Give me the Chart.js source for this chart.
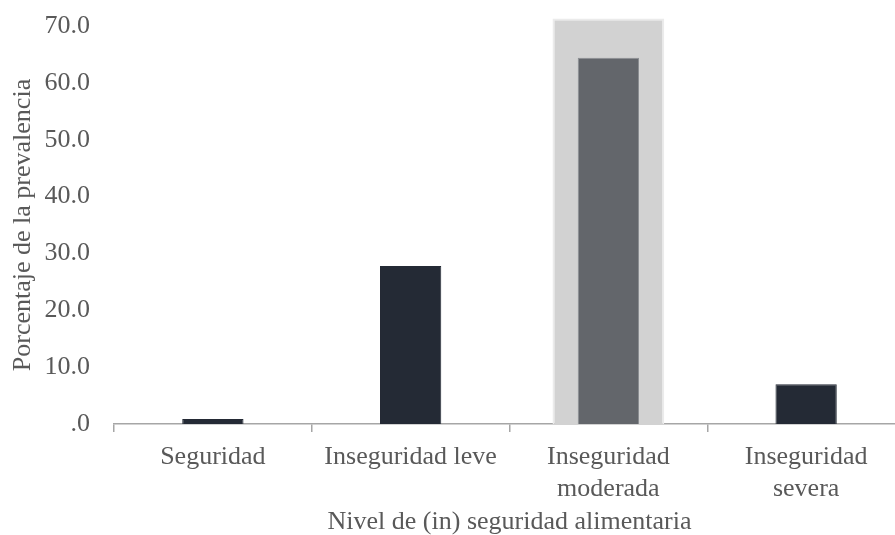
<!DOCTYPE html>
<html>
<head>
<meta charset="utf-8">
<script src="https://cdn.jsdelivr.net/npm/chart.js@4/dist/chart.umd.min.js"></script>
<style>
    html, body { margin: 0; padding: 0; background: #fff; overflow: hidden; }
    #caja { width: 905px; height: 538px; }
</style>
</head>
<body>
<div id="caja"><canvas id="grafico"></canvas></div>
<script>
// Datos
const categorias = ['Seguridad', 'Inseguridad leve', ['Inseguridad', 'moderada'], ['Inseguridad', 'severa']];
const prevalencia = [0.9, 27.8, 64.4, 7.0];
const resaltado = [null, null, 71.3, null];
const marcasY = [0, 10, 20, 30, 40, 50, 60, 70];

document.addEventListener("DOMContentLoaded", () => {
    const ctx = document.getElementById('grafico').getContext('2d');
    const fuente = "'Liberation Serif', 'Times New Roman', serif";
    const gris = '#595959';

    new Chart(ctx, {
        type: 'bar',
        data: {
            labels: categorias,
            datasets: [{
                label: 'Prevalencia',
                data: prevalencia,
                backgroundColor: ['#242a35', '#242a35', '#63666b', '#242a35'],
                borderColor: ['#242a35', '#242a35', '#8c8f93', '#242a35'],
                borderWidth: 1,
                barPercentage: 0.31,
                categoryPercentage: 1,
                grouped: false,
                order: 0
            }, {
                label: 'Resaltado',
                data: resaltado,
                backgroundColor: '#d2d2d2',
                borderColor: '#ebebeb',
                borderWidth: 2,
                barPercentage: 0.565,
                categoryPercentage: 1,
                grouped: false,
                clip: false,
                order: 1
            }]
        },
        options: {
            responsive: true,
            maintainAspectRatio: false,
            animation: false,
            layout: { padding: { top: 26, right: 0, left: 8, bottom: 0 } },
            plugins: {
                legend: { display: false },
                tooltip: { enabled: false }
            },
            scales: {
                x: {
                    grid: {
                        display: true,
                        drawOnChartArea: false,
                        offset: true,
                        tickLength: 8,
                        color: '#a6a6a6',
                        lineWidth: 1.5
                    },
                    border: { display: true, color: '#a6a6a6', width: 1.5 },
                    afterFit: escala => {
                        escala.height = 114;
                    },
                    ticks: {
                        color: gris,
                        font: { family: fuente, size: 26 },
                        maxRotation: 0,
                        padding: 10
                    },
                    title: {
                        display: true,
                        text: 'Nivel de (in) seguridad alimentaria',
                        color: gris,
                        font: { family: fuente, size: 26 },
                        padding: { top: 2, bottom: 0 }
                    }
                },
                y: {
                    min: 0,
                    max: 70,
                    grid: { display: false, drawTicks: false },
                    border: { display: false },
                    afterBuildTicks: escala => {
                        escala.ticks = marcasY.map(v => ({ value: v }));
                    },
                    afterFit: escala => {
                        // ancho fijo del eje y sin margen extra arriba/abajo
                        escala.width = 106;
                        escala.paddingTop = 0;
                        escala.paddingBottom = 0;
                    },
                    ticks: {
                        color: gris,
                        font: { family: fuente, size: 26 },
                        padding: 24,
                        callback: valor => valor.toFixed(1).replace(/^0/, '')
                    },
                    title: {
                        display: true,
                        text: 'Porcentaje de la prevalencia',
                        color: gris,
                        font: { family: fuente, size: 26 },
                        padding: { top: 0, bottom: 6 }
                    }
                }
            }
        }
    });
});
</script>
</body>
</html>
